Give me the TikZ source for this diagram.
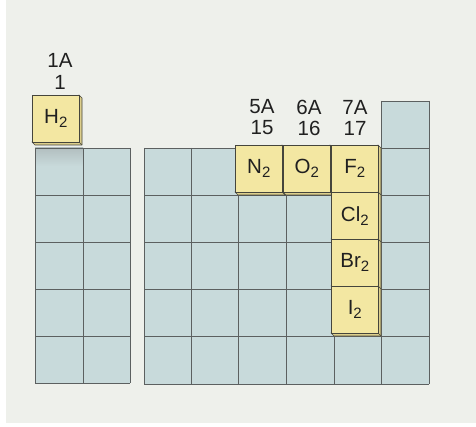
\documentclass[tikz,border=0pt]{standalone}
\usepackage{fontspec}
\setmainfont{Liberation Sans}
\definecolor{pagebg}{HTML}{EEF0EB}
\definecolor{gridblue}{HTML}{C8DADB}
\definecolor{gridgray}{HTML}{5C6060}
\definecolor{elemyellow}{HTML}{F3E7A2}
\definecolor{elemside}{HTML}{DDCF8C}
\definecolor{edgegray}{HTML}{45453C}
\definecolor{labelgray}{HTML}{202020}
% subscript 2 of a diatomic formula
\newcommand\subtwo{\raisebox{-4pt}{\fontsize{15}{15}\selectfont 2}}
% one element tile: name, x and y of the grid cell it sits on, text
\newcommand\elembox[4]{%
  \filldraw[sideface] (#2+44,#3-3) -- (#2+47,#3) -- (#2+47,#3+47) -- (#2,#3+47)
    -- (#2-3,#3+44) -- (#2+44,#3+44) -- cycle;
  \draw[sideface] (#2+44,#3+44) -- (#2+47,#3+47);
  \node[face] (#1) at (#2-3,#3-3) {#4};}
\begin{document}
\begin{tikzpicture}[x=1pt,y=-1pt,
  gridline/.style={draw=gridgray, line width=0.7pt},
  face/.style={draw=edgegray, line width=0.6pt, fill=elemyellow,
    minimum width=47pt, minimum height=47pt, inner sep=0pt, anchor=north west,
    font=\fontsize{20.5}{22}\selectfont, text=labelgray},
  sideface/.style={draw=edgegray, line width=0.6pt, fill=elemside, line join=round},
  grouplabel/.style={font=\fontsize{20.5}{22}\selectfont, inner sep=0pt, text=labelgray}]
\useasboundingbox (0,0) rectangle (476,427);
\fill[white] (0,0) rectangle (476,427);
\fill[pagebg] (6,0) rectangle (476,423);

% left block: groups 1 and 2
\fill[gridblue] (35,148) rectangle (130,383);
\shade[top color=gray!30!gridblue, bottom color=gridblue] (35,148) rectangle (83,166);
\foreach \y in {148,195,242,289,336,383} \draw[gridline] (35,\y) -- (130,\y);
\foreach \x in {35,83,130} \draw[gridline] (\x,148) -- (\x,383);

% right block: groups 13 to 18
\fill[gridblue] (144,148) rectangle (429,384);
\fill[gridblue] (381,101) rectangle (429,148);
\foreach \y in {148,195,242,289,336,384} \draw[gridline] (144,\y) -- (429,\y);
\draw[gridline] (381,101) -- (429,101);
\foreach \x in {144,191,238,286,334} \draw[gridline] (\x,148) -- (\x,384);
\foreach \x in {381,429} \draw[gridline] (\x,101) -- (\x,384);

% diatomic elements
\elembox{h2}{35}{98}{H\subtwo}
\elembox{n2}{238}{148}{N\subtwo}
\elembox{o2}{286}{148}{O\subtwo}
\elembox{f2}{334}{148}{F\subtwo}
\elembox{cl2}{334}{195}{Cl\subtwo}
\elembox{br2}{334}{242}{Br\subtwo}
\elembox{i2}{334}{289}{I\subtwo}

% group headings
\node[grouplabel] (g1a) at (60,60) {1A};
\node[grouplabel] (g1)  at (60,82) {1};
\node[grouplabel] (g5a) at (262,107) {5A};
\node[grouplabel] (g15) at (262,128) {15};
\node[grouplabel] (g6a) at (309,107) {6A};
\node[grouplabel] (g16) at (309,128) {16};
\node[grouplabel] (g7a) at (355,107) {7A};
\node[grouplabel] (g17) at (355,128) {17};
\end{tikzpicture}
\end{document}
